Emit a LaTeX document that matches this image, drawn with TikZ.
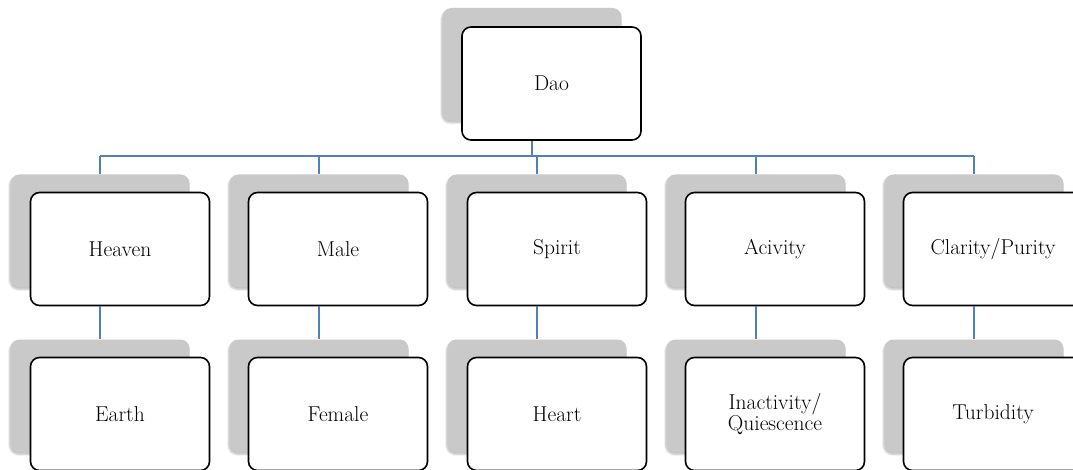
\documentclass[tikz,border=0pt]{standalone}
\usetikzlibrary{shadows.blur}
\definecolor{linkblue}{RGB}{79,129,189}
\tikzset{
  topic/.style={draw=black, line width=1.6pt, rounded corners=9pt, fill=white,
    minimum width=179pt, minimum height=113pt, inner sep=2pt, align=center,
    font=\fontsize{21.5}{21}\selectfont},
  backing/.style={fill=gray!42, rounded corners=9pt, minimum width=179pt,
    minimum height=113pt, inner sep=0pt,
    blur shadow={shadow xshift=-1pt, shadow yshift=-2pt, shadow blur steps=6, shadow opacity=25}},
  link/.style={draw=linkblue, line width=1.6pt},
}
\begin{document}
\begin{tikzpicture}[x=1pt,y=-1pt]
  \useasboundingbox (0,0) rectangle (1073,470);
  % grey backings
  \node[backing] (dao-s) at (532,64.5) {};
  \node[backing] (heaven-s) at (100,231) {};
  \node[backing] (male-s) at (319,231) {};
  \node[backing] (spirit-s) at (537,231) {};
  \node[backing] (acivity-s) at (756,231) {};
  \node[backing] (clarity-s) at (974,231) {};
  \node[backing] (earth-s) at (100,396) {};
  \node[backing] (female-s) at (319,396) {};
  \node[backing] (heart-s) at (537,396) {};
  \node[backing] (inactivity-s) at (756,396) {};
  \node[backing] (turbidity-s) at (974,396) {};
  % boxes
  \node[topic] (dao) at (551.5,83.5) {Dao};
  \node[topic] (heaven) at (120,249) {Heaven};
  \node[topic] (male) at (338,249) {Male};
  \node[topic] (spirit) at (557,249) {Spirit};
  \node[topic] (acivity) at (775,249) {Acivity};
  \node[topic] (clarity) at (993,249) {Clarity/Purity};
  \node[topic] (earth) at (120,414) {Earth};
  \node[topic] (female) at (338,414) {Female};
  \node[topic] (heart) at (557,414) {Heart};
  \node[topic] (inactivity) at (775,414) {Inactivity/\\Quiescence};
  \node[topic] (turbidity) at (993,414) {Turbidity};
  % connectors
  \coordinate (bus) at (0,156);
  \begin{scope}[link]
    \draw (dao.south -| dao-s) -- (bus -| dao-s);
    \draw (bus -| heaven-s) -- (bus -| clarity-s);
    \draw (bus -| heaven-s) -- (heaven-s.north);
    \draw (bus -| male-s) -- (male-s.north);
    \draw (bus -| spirit-s) -- (spirit-s.north);
    \draw (bus -| acivity-s) -- (acivity-s.north);
    \draw (bus -| clarity-s) -- (clarity-s.north);
    \draw (heaven.south -| heaven-s) -- (earth-s.north);
    \draw (male.south -| male-s) -- (female-s.north);
    \draw (spirit.south -| spirit-s) -- (heart-s.north);
    \draw (acivity.south -| acivity-s) -- (inactivity-s.north);
    \draw (clarity.south -| clarity-s) -- (turbidity-s.north);
  \end{scope}
\end{tikzpicture}
\end{document}
